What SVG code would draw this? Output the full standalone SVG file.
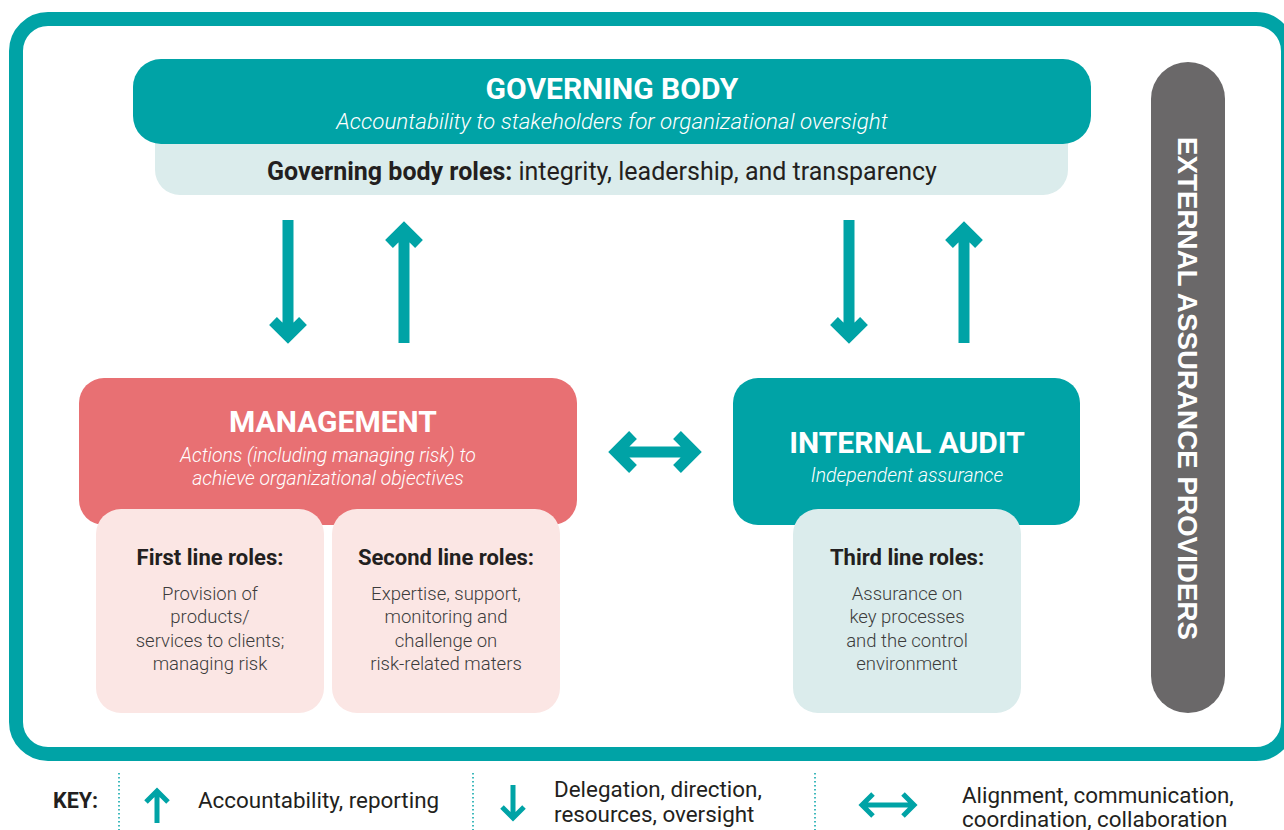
<svg xmlns="http://www.w3.org/2000/svg" width="1284" height="830" viewBox="0 0 1284 830">
<defs>
<style>
.t{font-family:Roboto,"Liberation Sans",sans-serif}
.title{font-size:30px;font-weight:700;fill:#fff}
.sub{font-size:22.4px;font-style:italic;font-weight:300;fill:#fff}
.sub18{font-size:19.4px;font-style:italic;font-weight:300;fill:#fff}
.hd{font-size:22px;font-weight:700;fill:#231f20}
.body{font-size:18.5px;font-weight:300;fill:#3c3c3c}
.key{font-size:22.4px;font-weight:400;fill:#231f20}
.arr{fill:none;stroke:#00a3a6;stroke-width:11;stroke-linejoin:miter;stroke-linecap:butt}
.karr{fill:none;stroke:#00a3a6;stroke-width:5;stroke-linejoin:miter;stroke-linecap:butt}
.dot{stroke:#00a3a6;stroke-width:1.5;stroke-dasharray:1.5 2.5}
</style>
</defs>
<rect width="1284" height="830" fill="#fff"/>
<rect id="frame" x="16" y="19" width="1272" height="735" rx="32" fill="#fff" stroke="#00a3a6" stroke-width="14"/>

<g id="governing-body">
<rect x="155" y="110" width="913" height="85" rx="25" fill="#dbecec"/>
<rect x="133" y="59" width="958" height="85" rx="28" fill="#00a3a6"/>
<text class="t title" x="612" y="99" text-anchor="middle">GOVERNING BODY</text>
<text class="t sub" x="612" y="129" text-anchor="middle">Accountability to stakeholders for organizational oversight</text>
<text class="t" x="602" y="180" text-anchor="middle" font-size="25" fill="#231f20"><tspan font-weight="700">Governing body roles:</tspan> integrity, leadership, and transparency</text>
</g>

<g id="external-assurance">
<rect x="1151" y="62" width="74" height="651" rx="37" fill="#6a6869"/>
<text transform="translate(1178,388.5) rotate(90)" text-anchor="middle" font-family="'Liberation Sans',Arial,sans-serif" font-weight="700" font-size="27" fill="#fff" textLength="503" lengthAdjust="spacingAndGlyphs">EXTERNAL ASSURANCE PROVIDERS</text>
</g>

<g id="management">
<rect x="79" y="378" width="498" height="147" rx="25" fill="#e87073"/>
<text class="t title" x="333" y="432" text-anchor="middle" font-size="31">MANAGEMENT</text>
<text class="t sub18" x="328" y="462" text-anchor="middle">Actions (including managing risk) to</text>
<text class="t sub18" x="328" y="485" text-anchor="middle">achieve organizational objectives</text>
</g>

<g id="first-line">
<rect x="96" y="509" width="228" height="204" rx="25" fill="#fbe6e4"/>
<text class="t hd" x="210" y="565" text-anchor="middle">First line roles:</text>
<text class="t body" x="210" y="600" text-anchor="middle">Provision of</text>
<text class="t body" x="210" y="623" text-anchor="middle">products/</text>
<text class="t body" x="210" y="647" text-anchor="middle">services to clients;</text>
<text class="t body" x="210" y="670" text-anchor="middle">managing risk</text>
</g>

<g id="second-line">
<rect x="332" y="509" width="228" height="204" rx="25" fill="#fbe6e4"/>
<text class="t hd" x="446" y="565" text-anchor="middle">Second line roles:</text>
<text class="t body" x="446" y="600" text-anchor="middle">Expertise, support,</text>
<text class="t body" x="446" y="623" text-anchor="middle">monitoring and</text>
<text class="t body" x="446" y="647" text-anchor="middle">challenge on</text>
<text class="t body" x="446" y="670" text-anchor="middle">risk-related maters</text>
</g>

<g id="internal-audit">
<rect x="733" y="378" width="347" height="147" rx="25" fill="#00a3a6"/>
<text class="t title" x="907" y="453" text-anchor="middle">INTERNAL AUDIT</text>
<text class="t sub18" x="907" y="482" text-anchor="middle">Independent assurance</text>
</g>

<g id="third-line">
<rect x="793" y="509" width="228" height="204" rx="25" fill="#dbecec"/>
<text class="t hd" x="907" y="565" text-anchor="middle">Third line roles:</text>
<text class="t body" x="907" y="600" text-anchor="middle">Assurance on</text>
<text class="t body" x="907" y="623" text-anchor="middle">key processes</text>
<text class="t body" x="907" y="647" text-anchor="middle">and the control</text>
<text class="t body" x="907" y="670" text-anchor="middle">environment</text>
</g>

<g id="connectors">
<path class="arr" d="M288 220V336M273 321L288 336L303 321"/>
<path class="arr" d="M404 343V229M389 244L404 229L419 244"/>
<path class="arr" d="M849 220V336M834 321L849 336L864 321"/>
<path class="arr" d="M964 343V229M949 244L964 229L979 244"/>
<path class="arr" d="M616 452H694M633 435L616 452L633 469M677 435L694 452L677 469"/>
</g>

<g id="key">
<text class="t" x="53" y="808" font-size="21.5" font-weight="700" fill="#231f20">KEY:</text>
<line class="dot" x1="119" y1="773" x2="119" y2="830"/>
<line class="dot" x1="473" y1="773" x2="473" y2="830"/>
<line class="dot" x1="815" y1="773" x2="815" y2="830"/>
<path class="karr" d="M157 823V791M146 802L157 791L168 802"/>
<text class="t key" x="198" y="808">Accountability, reporting</text>
<path class="karr" d="M513 785V818M502 807L513 818L524 807"/>
<text class="t key" x="554" y="797">Delegation, direction,</text>
<text class="t key" x="554" y="822">resources, oversight</text>
<path class="karr" d="M862 805H914M873 794L862 805L873 816M903 794L914 805L903 816"/>
<text class="t key" x="962" y="803">Alignment, communication,</text>
<text class="t key" x="962" y="827">coordination, collaboration</text>
</g>
</svg>
